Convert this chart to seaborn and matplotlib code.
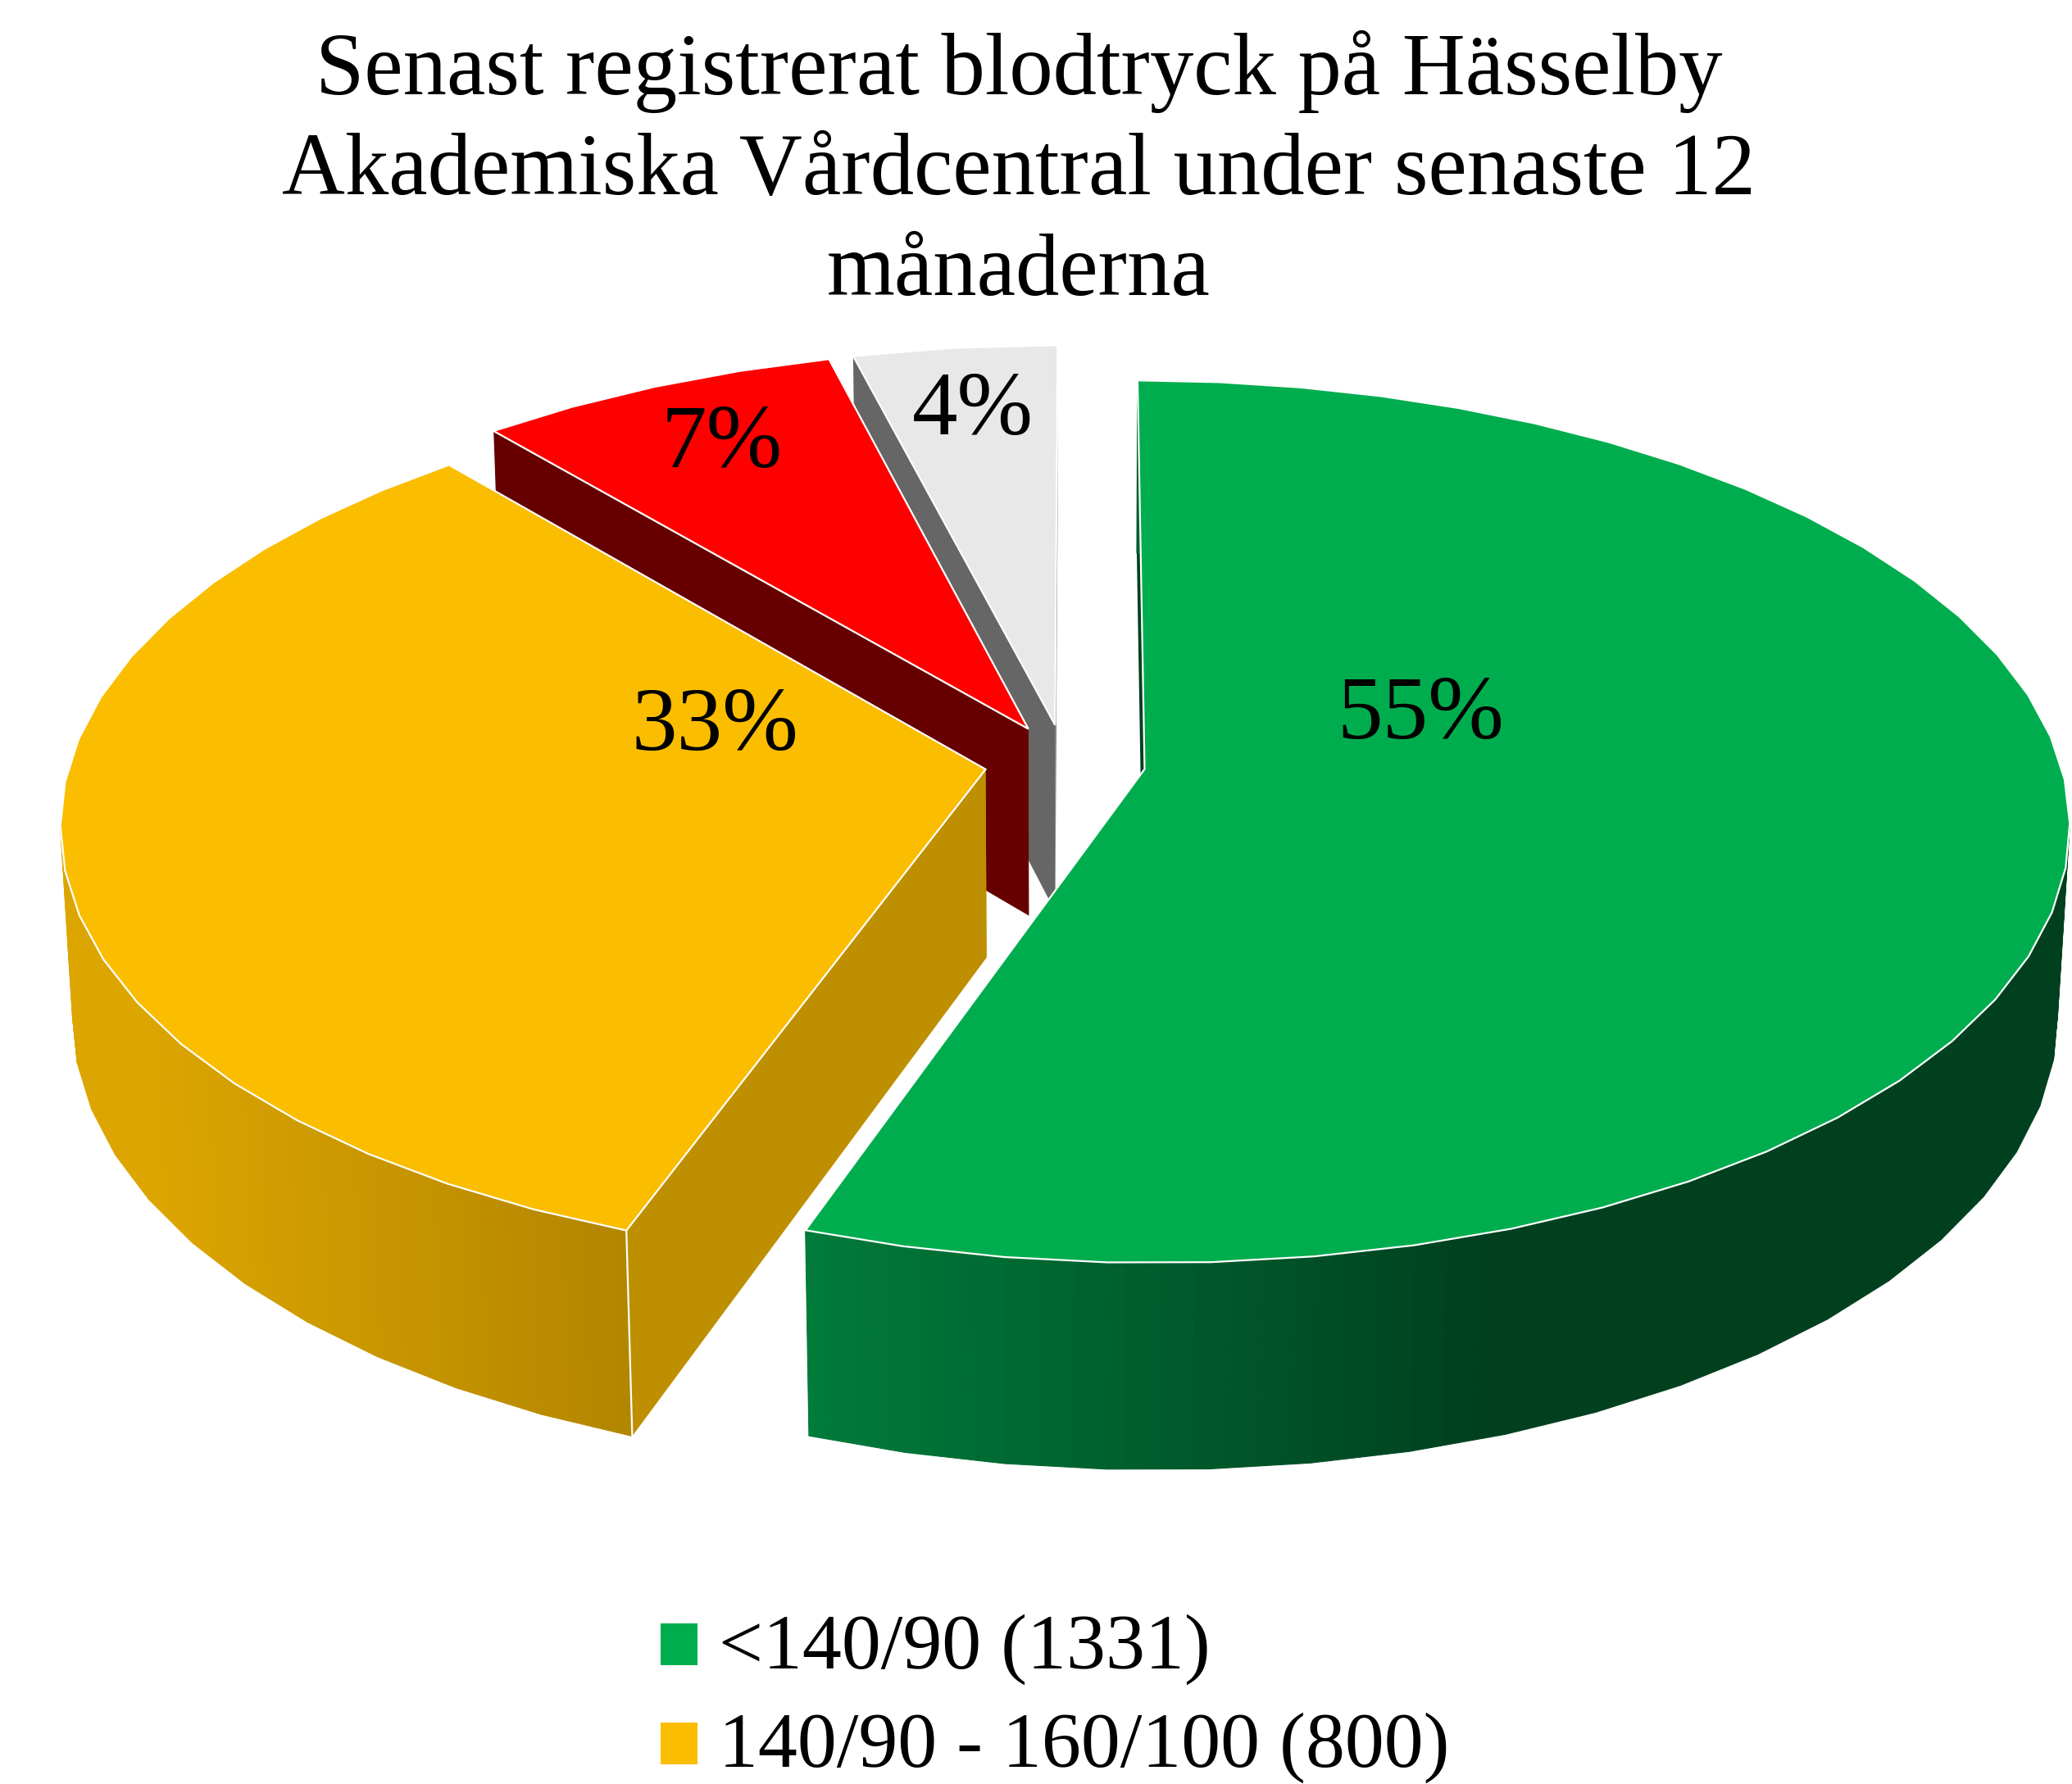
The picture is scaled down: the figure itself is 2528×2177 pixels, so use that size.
import numpy as np
import matplotlib
matplotlib.use('Agg')
import matplotlib.pyplot as plt
from matplotlib.patches import Patch
import seaborn as sns

# data
categories = ['<140/90 (1331)', '140/90 - 160/100 (800)', '160/100 - 180/110', '>180/110']
counts = [1331, 800, 172, 97]
title_lines = ['Senast registrerat blodtryck på Hässelby',
               'Akademiska Vårdcentral under senaste 12',
               'månaderna']

# colours: top, wall, side gradient (left, right)
top_colors = ['#00AD4E', '#FBBD00', '#FF0000', '#E8E8E8']
wall_colors = ['#00401F', '#BE8F00', '#660000', '#666666']
side_colors = [('#007B3A', '#00401F'), ('#DCA500', '#B38600'), None, None]
side_x = [(612, 1120), (110, 470), None, None]

# layout in reference pixels (1568 wide)
label_pos = [(1075, 542), (541, 551), (546, 337), (736, 312)]
cx, cy = 806, 577
A, B, D = 693, 328, 144
p, r = 0.119, 0.012
explode = 0.088
start = 0.1
facet = 5.6

sns.set_theme(style='white')
plt.rcParams['font.family'] = ['Liberation Serif', 'DejaVu Serif']

fig = plt.figure(figsize=(25.28, 21.77), dpi=100)
ax = fig.add_axes([0, 0, 1, 1])
ax.set_xlim(0, 1568)
ax.set_ylim(1350, 0)
ax.axis('off')


def project(u, v, h, ou, ov):
    # perspektiv, h=0 ovansida, h=1 undersida
    u = u + ou
    v = v + ov
    w = 1 + p * v + r * h
    return cx + A * u / w, cy + (D * h - B * v) / w


shares = np.array(counts) / np.sum(counts)
edges = start + np.concatenate([[0], np.cumsum(shares)]) * 360

# bakifrån och framåt
for i in [3, 2, 1, 0]:
    a0, a1 = edges[i], edges[i + 1]
    mid = np.radians((a0 + a1) / 2)
    ou, ov = explode * np.sin(mid), explode * np.cos(mid)
    # kanten är kantig i originalet, korda med fast steg
    t = np.radians(np.linspace(a0, a1, max(int((a1 - a0) / facet), 1) + 1))
    fine = np.linspace(t[0], t[-1], (len(t) - 1) * 6 + 1)
    us = np.interp(fine, t, np.sin(t))
    vs = np.interp(fine, t, np.cos(t))

    # snittytor
    ax_, ay_ = project(0, 0, 0, ou, ov)
    bx_, by_ = project(0, 0, 1, ou, ov)
    for k in [0, -1]:
        ex0, ey0 = project(us[k], vs[k], 0, ou, ov)
        ex1, ey1 = project(us[k], vs[k], 1, ou, ov)
        ax.fill([ax_, ex0, ex1, bx_], [ay_, ey0, ey1, by_], color=wall_colors[i], lw=0, zorder=i * -10 + 1)

    # ytterkant med gradient
    if side_colors[i] is not None:
        c0 = np.array(matplotlib.colors.to_rgb(side_colors[i][0]))
        c1 = np.array(matplotlib.colors.to_rgb(side_colors[i][1]))
        for j in range(len(us) - 1):
            x0, y0 = project(us[j], vs[j], 0, ou, ov)
            x1, y1 = project(us[j + 1], vs[j + 1], 0, ou, ov)
            x2, y2 = project(us[j + 1], vs[j + 1], 1, ou, ov)
            x3, y3 = project(us[j], vs[j], 1, ou, ov)
            f = np.interp((x0 + x1) / 2, side_x[i], [0, 1])
            col = c0 + (c1 - c0) * f
            ax.fill([x0, x1, x2, x3], [y0, y1, y2, y3], color=col, lw=0.8, zorder=i * -10 + 2)
        if i == 1:
            ex0, ey0 = project(us[0], vs[0], 0, ou, ov)
            ex1, ey1 = project(us[0], vs[0], 1, ou, ov)
            ax.plot([ex0, ex1], [ey0, ey1], color='white', lw=1.6, zorder=i * -10 + 3)

    # ovansida
    xs, ys = project(us, vs, 0, ou, ov)
    ax.fill(np.r_[ax_, xs], np.r_[ay_, ys], facecolor=top_colors[i], edgecolor='white',
            lw=1.6, joinstyle='miter', zorder=i * -10 + 4)

    ax.text(label_pos[i][0], label_pos[i][1], f'{shares[i] * 100:.0f}%', fontsize=80,
            color='black', ha='center', va='center', zorder=5)

# rubrik
for line, y in zip(title_lines, [54, 131, 207]):
    ax.text(771, y, line, fontsize=76.8, color='black', ha='center', va='center')

# förklaring (bara två rader syns)
handles = [Patch(facecolor=top_colors[0], edgecolor='none'), Patch(facecolor=top_colors[1], edgecolor='none')]
leg = ax.legend(handles, categories[:2], loc='upper left', bbox_to_anchor=(0.3189, 0.0956), frameon=False,
                fontsize=69, labelcolor='black', handlelength=0.465, handleheight=0.44, handletextpad=0.27,
                labelspacing=0.35, borderpad=0, borderaxespad=0)
for patch in leg.get_patches():
    patch.set_y(patch.get_y() - 4)

fig.savefig('out.png', dpi=100, facecolor='white')
